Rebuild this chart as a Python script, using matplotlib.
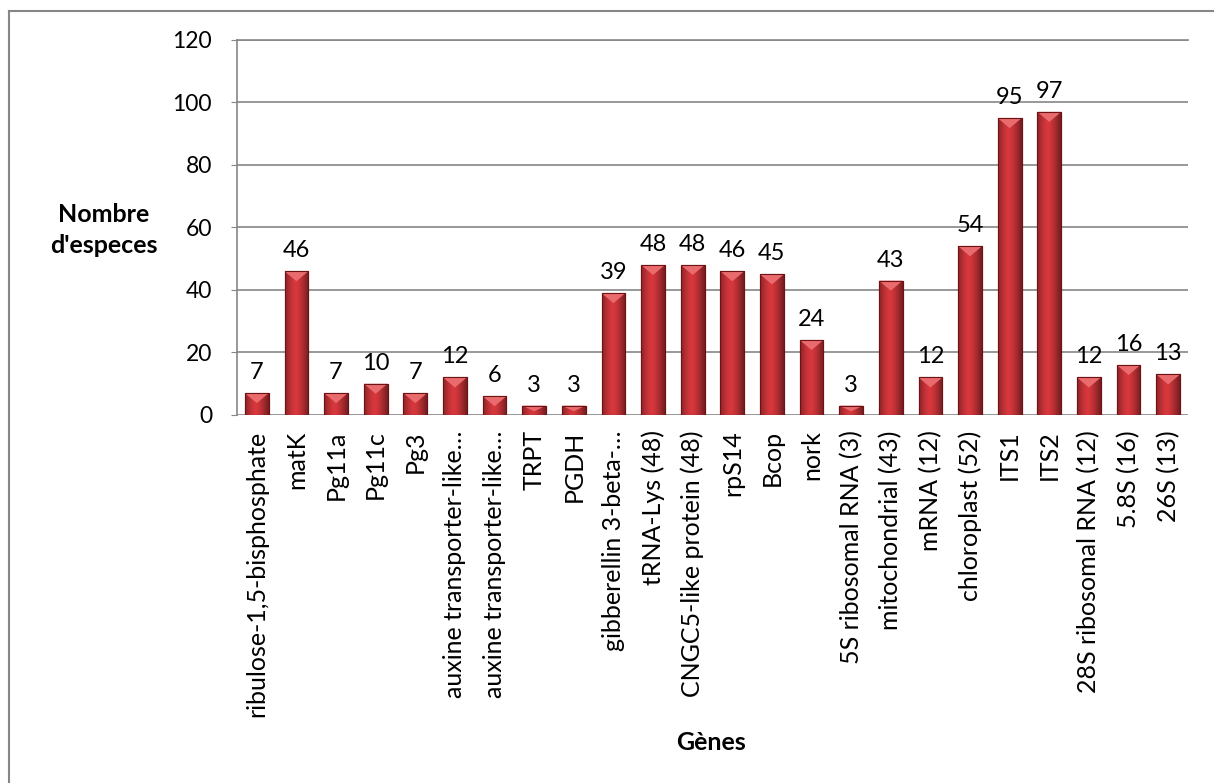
import matplotlib
matplotlib.use("Agg")
import matplotlib.pyplot as plt
import numpy as np
from matplotlib.patches import Polygon
from matplotlib.lines import Line2D

genes = ["ribulose-1,5-bisphosphate", "matK", "Pg11a", "Pg11c", "Pg3",
         "auxine transporter-like…", "auxine transporter-like…", "TRPT", "PGDH",
         "gibberellin 3-beta-…", "tRNA-Lys (48)", "CNGC5-like protein (48)", "rpS14",
         "Bcop", "nork", "5S ribosomal RNA (3)", "mitochondrial (43)", "mRNA (12)",
         "chloroplast (52)", "ITS1", "ITS2", "28S ribosomal RNA (12)", "5.8S (16)", "26S (13)"]
counts = [7, 46, 7, 10, 7, 12, 6, 3, 3, 39, 48, 48, 46, 45, 24, 3, 43, 12, 54, 95, 97, 12, 16, 13]
yticks = [0, 20, 40, 60, 80, 100, 120]

plt.rcParams['font.family'] = ['Lato', 'DejaVu Sans']

W, H = 1214, 783
fig = plt.figure(figsize=(W / 100, H / 100), dpi=100)
ax = fig.add_axes([237 / W, 1 - 415 / H, (1188 - 237) / W, (415 - 40) / H])

x = np.arange(len(genes))
bars = ax.bar(x, counts, width=0.6, color='#C8363A', edgecolor='#7A1518', linewidth=0.8, zorder=3)

# horizontal gradient shading + top bevel
grad = np.linspace(0, 1, 64)
shade = 1 - 0.55 * np.abs(grad - 0.45) ** 1.4 * 2
img = np.zeros((1, 64, 4))
img[..., 0] = 0.85 * shade
img[..., 1] = 0.22 * shade
img[..., 2] = 0.24 * shade
img[..., 3] = 1
for b in bars:
    x0, w, h = b.get_x(), b.get_width(), b.get_height()
    im = ax.imshow(img, extent=[x0, x0 + w, 0, h], aspect='auto', zorder=3.5, interpolation='bicubic')
    im.set_clip_path(b)
    bh = 3.2 if h > 3.4 else h * 0.6
    tri = Polygon([[x0, h], [x0 + w, h], [x0 + w / 2, h - bh]], closed=True,
                  facecolor='#EA6B6D', edgecolor='none', zorder=4)
    ax.add_patch(tri)
    ax.add_patch(Polygon([[x0, h], [x0 + w, h], [x0 + w, 0], [x0, 0]], closed=True,
                         facecolor='none', edgecolor='#6E1215', linewidth=0.8, zorder=4.5))
    ax.text(x0 + w / 2, h + 3.2, f"{int(h)}", ha='center', va='bottom', fontsize=17, color='black', zorder=5)

ax.set_xlim(-0.5, len(genes) - 0.5)
ax.set_ylim(0, 120)
ax.set_yticks(yticks)
ax.set_yticklabels([str(t) for t in yticks], fontsize=16.5)
ax.set_xticks(x)
ax.set_xticklabels(genes, rotation=90, fontsize=18, va='top')
ax.tick_params(axis='x', length=0, pad=11)
ax.tick_params(axis='y', length=4, pad=14, color='#868686')
ax.yaxis.grid(True, color='#868686', linewidth=1.2, zorder=0)
ax.set_axisbelow(True)
for s in ['right', 'bottom']:
    ax.spines[s].set_visible(False)
ax.spines['top'].set_color('#868686')
ax.spines['left'].set_color('#868686')
ax.spines['top'].set_linewidth(1.2)
ax.spines['left'].set_linewidth(1.2)

fig.text(104 / W, 1 - 230 / H, "Nombre\nd'especes", ha='center', va='center', fontsize=18,
         fontweight='bold', linespacing=1.4)
fig.text(711 / W, 1 - 742 / H, "Gènes", ha='center', va='center', fontsize=18, fontweight='bold')

# outer chart border
fig.add_artist(Line2D([8.5 / W, 8.5 / W], [0, 1 - 10.5 / H], transform=fig.transFigure,
                      color='#868686', linewidth=1.5))
fig.add_artist(Line2D([8.5 / W, 1], [1 - 10.5 / H, 1 - 10.5 / H], transform=fig.transFigure,
                      color='#868686', linewidth=1.5))

fig.savefig("out.png", dpi=100)
